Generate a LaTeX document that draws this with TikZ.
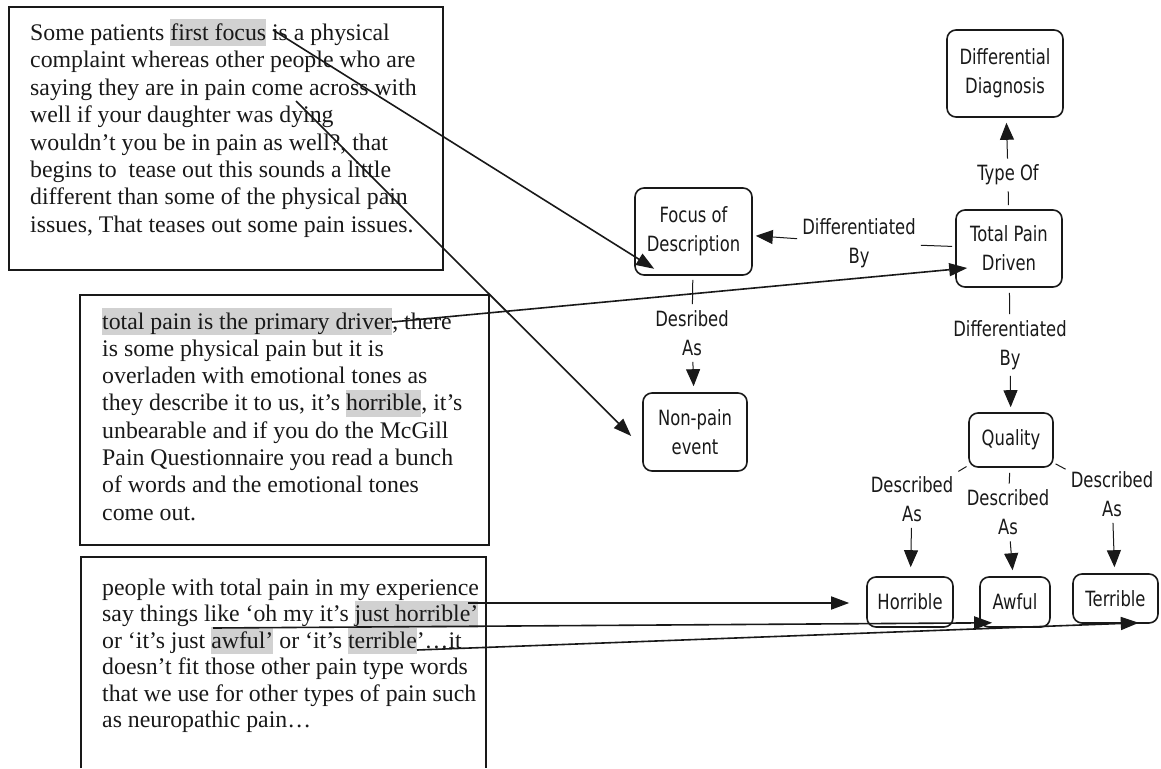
\documentclass[tikz,border=0pt]{standalone}
\usepackage{fontspec}
\setmainfont{Liberation Serif}
\newfontfamily\mapfont[FakeStretch=0.78]{DejaVu Sans}
\usetikzlibrary{arrows.meta,calc}
\definecolor{hlgray}{gray}{0.82}
\definecolor{ink}{gray}{0.1}
\newcommand{\hlw}[1]{{\setlength{\fboxsep}{0pt}\colorbox{hlgray}{\rule[-6pt]{0pt}{27pt}#1}}}
\begin{document}
\begin{tikzpicture}[x=1pt,y=-1pt,
  txt/.style={anchor=base west,inner sep=0pt,text=ink,font=\fontsize{23.8}{27.4}\selectfont},
  quotebox/.style={draw=ink,line width=1.8pt},
  concept/.style={draw=ink,line width=1.6pt,rounded corners=9pt,align=center,text=ink,font=\mapfont\fontsize{21}{29}\selectfont,inner sep=0pt},
  link/.style={align=center,text=ink,font=\mapfont\fontsize{21}{29}\selectfont,inner xsep=5pt,inner ysep=6pt},
  rel/.style={draw=ink,line width=1pt},
  relarrow/.style={draw=ink,line width=1pt,-{Triangle[length=17pt,width=14pt]}},
  ptr/.style={draw=ink,line width=1.6pt,-{Triangle[length=18pt,width=13pt]}}
]
\fill[white] (0,0) rectangle (1161,768);
\useasboundingbox (0,0) rectangle (1161,768);

% ---------- quotation boxes ----------
\draw[quotebox] (9,7) rectangle (443,270);
\draw[quotebox] (80,295) rectangle (489,545);
\draw[quotebox] (81,768) -- (81,557) -- (486,557) -- (486,768);

% box 1
\node[txt] (a1) at (30,40.5) {Some patients \hlw{first focus} is a physical};
\node[txt] (a2) at (30,67.9) {complaint whereas other people who are};
\node[txt] (a3) at (30,95.3) {saying they are in pain come across with};
\node[txt] (a4) at (30,122.7) {well if your daughter was dying};
\node[txt] (a5) at (30,150.1) {wouldn’t you be in pain as well?, that};
\node[txt] (a6) at (30,177.5) {begins to\ \ tease out this sounds a little};
\node[txt] (a7) at (30,204.9) {different than some of the physical pain};
\node[txt] (a8) at (30,232.3) {issues, That teases out some pain issues.};

% box 2
\node[txt] (b1) at (102,329) {\hlw{total pain is the primary driver}, there};
\node[txt] (b2) at (102,356.3) {is some physical pain but it is};
\node[txt] (b3) at (102,383.6) {overladen with emotional tones as};
\node[txt] (b4) at (102,410.9) {they describe it to us, it’s \hlw{horrible}, it’s};
\node[txt] (b5) at (102,438.2) {unbearable and if you do the McGill};
\node[txt] (b6) at (102,465.5) {Pain Questionnaire you read a bunch};
\node[txt] (b7) at (102,492.8) {of words and the emotional tones};
\node[txt] (b8) at (102,520.1) {come out.};

% box 3
\node[txt] (c1) at (102,595) {people with total pain in my experience};
\node[txt] (c2) at (102,621.5) {say things like ‘oh my it’s \hlw{just horrible’}};
\node[txt] (c3) at (102,648) {or ‘it’s just \hlw{awful’} or ‘it’s \hlw{terrible}’…it};
\node[txt] (c4) at (102,674.5) {doesn’t fit those other pain type words};
\node[txt] (c5) at (102,701) {that we use for other types of pain such};
\node[txt] (c6) at (102,727.5) {as neuropathic pain…};

% ---------- concept map ----------
\node[concept,minimum width=116pt,minimum height=87pt] (dd) at (1005,73.5) {Differential\\Diagnosis};
\node[concept,minimum width=106pt,minimum height=77pt] (tpd) at (1009,248.5) {Total Pain\\Driven};
\node[concept,minimum width=117pt,minimum height=87pt] (fod) at (693.5,231.5) {Focus of\\Description};
\node[concept,minimum width=104pt,minimum height=78pt] (npe) at (695,432) {Non-pain\\event};
\node[concept,minimum width=84pt,minimum height=54pt] (qual) at (1011,440) {Quality};
\node[concept,minimum width=86pt,minimum height=50pt] (hor) at (910,602) {Horrible};
\node[concept,minimum width=70pt,minimum height=50pt] (awf) at (1015,602) {Awful};
\node[concept,minimum width=85pt,minimum height=49pt] (ter) at (1115.5,598.5) {Terrible};

\node[link] (typeof) at (1008,175) {Type Of};
\node[link] (db1) at (859,243) {Differentiated\\By};
\node[link] (desas) at (692,333) {Desribed\\As};
\node[link] (db2) at (1010,345) {Differentiated\\By};
\node[link] (da1) at (912,499) {Described\\As};
\node[link] (da2) at (1008,512.5) {Described\\As};
\node[link] (da3) at (1112,494) {Described\\As};

\draw[rel,shorten <=4pt] (tpd) -- (typeof);
\draw[relarrow,shorten >=5pt] (typeof) -- (dd);
\draw[rel,shorten <=3pt] (tpd) -- (db1);
\draw[relarrow,shorten >=3pt] (db1) -- (fod);
\draw[rel,shorten <=4pt] (fod) -- (desas);
\draw[relarrow,shorten >=6pt] (desas) -- (npe);
\draw[rel,shorten <=5pt] (tpd) -- (db2);
\draw[relarrow,shorten >=5pt] (db2) -- (qual);
\draw[rel,shorten <=2pt] (qual) -- (da1);
\draw[relarrow,shorten >=9pt] (da1) -- (hor);
\draw[rel,shorten <=5pt] (qual) -- (da2);
\draw[relarrow,shorten >=6pt] (da2) -- (awf);
\draw[rel,shorten <=2pt] (qual) -- (da3);
\draw[relarrow,shorten >=6pt] (da3) -- (ter);

% ---------- pointers from quotes to concepts ----------
\coordinate (s1) at (273,30);
\coordinate (s2) at (296,101);
\coordinate (s3) at (392,322);
\coordinate (s4) at (468,603);
\coordinate (s5) at (213,628);
\coordinate (s6) at (417,650);
\draw[ptr] (s1) -- ($(fod.south west)+(20,-7)$);
\draw[ptr] (s2) -- ($(npe.west)+(-11,4)$);
\draw[ptr] (s3) -- ($(tpd.west)+(12,19.5)$);
\draw[ptr] (s4) -- ($(hor.west)+(-17,1)$);
\draw[ptr] (s5) -- ($(awf.south west)+(13,-5)$);
\draw[ptr] (s6) -- ($(ter.south east)+(-20,-1)$);
\end{tikzpicture}
\end{document}
